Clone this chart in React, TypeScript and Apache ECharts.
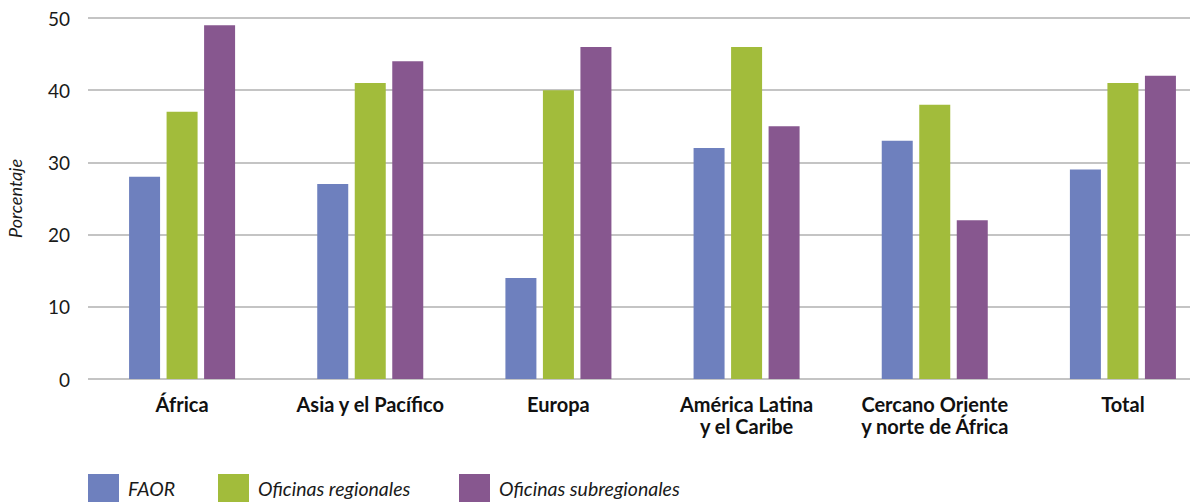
import React, { useEffect, useRef } from "react";
import * as echarts from "echarts";

const categories = [
  "África",
  "Asia y el Pacífico",
  "Europa",
  "América Latina\ny el Caribe",
  "Cercano Oriente\ny norte de África",
  "Total",
];
const seriesNames = ["FAOR", "Oficinas regionales", "Oficinas subregionales"];
const faor = [28, 27, 14, 32, 33, 29];
const regionales = [37, 41, 40, 46, 38, 41];
const subregionales = [49, 44, 46, 35, 22, 42];
const colors = ["#6e80be", "#a2bc3b", "#87578f"];
const yTicks = [0, 10, 20, 30, 40, 50];
const legendLefts = [88, 218, 459];

export default function App() {
  const ref = useRef<HTMLDivElement>(null);
  useEffect(() => {
    const chart = echarts.init(ref.current!, null, { renderer: "svg" });
    const font = "Lato";
    const values = [faor, regionales, subregionales];
    chart.setOption({
      animation: false,
      textStyle: { fontFamily: font },
      legend: seriesNames.map((name, i) => ({
        left: legendLefts[i],
        top: 474,
        padding: 0,
        itemWidth: 31,
        itemHeight: 28,
        itemGap: 9,
        icon: "rect",
        data: [name],
        textStyle: {
          fontStyle: "italic",
          fontSize: 19.5,
          color: "#1a1a1a",
          fontFamily: font,
          padding: [0, 0, 0, 4],
        },
      })),
      grid: {
        left: 88,
        top: 18,
        bottom: 123,
        width: 1129,
        containLabel: false,
        outerBoundsMode: "none",
      },
      xAxis: {
        type: "category",
        data: categories,
        axisLine: { show: false },
        axisTick: { show: false },
        axisLabel: {
          interval: 0,
          margin: 14,
          fontWeight: "bold",
          fontSize: 20,
          lineHeight: 22,
          color: "#111",
          fontFamily: font,
        },
      },
      yAxis: {
        type: "value",
        min: yTicks[0],
        max: yTicks[yTicks.length - 1],
        interval: 10,
        name: "Porcentaje",
        nameLocation: "middle",
        nameGap: 64,
        nameTextStyle: { fontStyle: "italic", fontSize: 18, color: "#1a1a1a", fontFamily: font },
        axisLine: { show: false },
        axisTick: { show: false },
        axisLabel: { margin: 18, fontSize: 19, color: "#1a1a1a", fontFamily: font },
        splitLine: { lineStyle: { color: "#c4c4c4", width: 2 } },
      },
      series: seriesNames.map((name, i) => ({
        name,
        type: "bar",
        data: values[i],
        barWidth: 31,
        barGap: "21%",
        itemStyle: { color: colors[i] },
      })),
    });
    return () => chart.dispose();
  }, []);
  return (
    <div style={{ position: "fixed", left: 0, top: 0, width: 1190, height: 502, overflow: "hidden", background: "#fff" }}>
      <div ref={ref} style={{ width: 1240, height: 502 }} />
    </div>
  );
}
